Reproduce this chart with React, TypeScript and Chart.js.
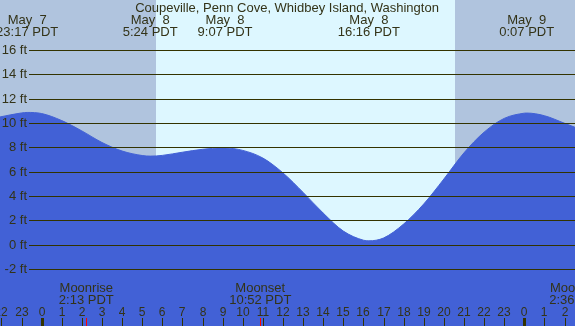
import React, { useEffect, useRef } from "react";
import { Chart, registerables } from "chart.js";

Chart.register(...registerables);

// Tide curve: hours since May 8 00:00 PDT, height in ft
const tideHours = [-2.07, -1, -0.72, 0, 1, 2, 3, 4, 5, 5.4, 6, 7, 8, 9, 9.12, 10, 11, 12, 13, 14, 15, 16, 16.27, 17, 18, 19, 20, 21, 22, 23, 24, 24.12, 25, 26, 26.52];
const tideFeet = [10.5, 10.83, 10.87, 10.78, 10.2, 9.35, 8.4, 7.7, 7.33, 7.28, 7.34, 7.6, 7.84, 7.95, 7.95, 7.75, 7.12, 5.9, 4.3, 2.6, 1.12, 0.37, 0.32, 0.55, 1.7, 3.35, 5.4, 7.55, 9.25, 10.38, 10.81, 10.82, 10.6, 9.98, 9.65];

// Tide extremes labels (top)
const extremeHours = [-0.72, 5.4, 9.12, 16.27, 24.12];
const extremeDates = ["May  7", "May  8", "May  8", "May  8", "May  9"];
const extremeTimes = ["23:17 PDT", "5:24 PDT", "9:07 PDT", "16:16 PDT", "0:07 PDT"];

// Sun: sunrise / sunset (hours)
const sunriseHour = 5.68;
const sunsetHour = 20.55;

// Moon events (bottom)
const moonHours = [2.22, 10.87, 26.6];
const moonNames = ["Moonrise", "Moonset", "Moonrise"];
const moonTimes = ["2:13 PDT", "10:52 PDT", "2:36 PDT"];

// Y grid lines (ft)
const gridFeet = [16, 14, 12, 10, 8, 6, 4, 2, 0, -2];

// Hour ticks
const tickHours = [-2, -1, 0, 1, 2, 3, 4, 5, 6, 7, 8, 9, 10, 11, 12, 13, 14, 15, 16, 17, 18, 19, 20, 21, 22, 23, 24, 25, 26];
const tickLabels = ["22", "23", "0", "1", "2", "3", "4", "5", "6", "7", "8", "9", "10", "11", "12", "13", "14", "15", "16", "17", "18", "19", "20", "21", "22", "23", "0", "1", "2"];

const title = "Coupeville, Penn Cove, Whidbey Island, Washington";

const NIGHT = "#b0c4de";
const DAY = "#ddf7ff";
const WATER = "#4261d6";
const LINE = "#333300";
const TEXT = "#333318";
const FONT = '"Liberation Sans", Arial, sans-serif';

const decorPlugin = {
  id: "tideDecor",
  beforeDatasetsDraw(chart: any) {
    const { ctx, chartArea, scales } = chart;
    const x = scales.x;
    const xr = Math.round(x.getPixelForValue(sunriseHour));
    const xs = Math.round(x.getPixelForValue(sunsetHour));
    ctx.save();
    ctx.fillStyle = NIGHT;
    ctx.fillRect(chartArea.left, chartArea.top, chartArea.right - chartArea.left, chartArea.bottom - chartArea.top);
    ctx.fillStyle = DAY;
    ctx.fillRect(xr, chartArea.top, xs - xr, chartArea.bottom - chartArea.top);
    ctx.restore();
  },
  afterDatasetsDraw(chart: any) {
    const { ctx, scales, width } = chart;
    const x = scales.x;
    const y = scales.y;
    ctx.save();
    // grid lines and labels
    ctx.strokeStyle = LINE;
    ctx.lineWidth = 1;
    ctx.fillStyle = TEXT;
    ctx.font = `13px ${FONT}`;
    ctx.textAlign = "right";
    ctx.textBaseline = "middle";
    gridFeet.forEach((f) => {
      const py = Math.round(y.getPixelForValue(f)) + 0.5;
      ctx.beginPath();
      ctx.moveTo(29, py);
      ctx.lineTo(width, py);
      ctx.stroke();
      ctx.fillText(`${f} ft`, 27, py);
    });
    // title
    ctx.textAlign = "center";
    ctx.textBaseline = "alphabetic";
    ctx.fillText(title, 287, 12);
    // extremes
    extremeHours.forEach((h, i) => {
      const px = x.getPixelForValue(h);
      ctx.fillText(extremeDates[i], px, 24);
      ctx.fillText(extremeTimes[i], px, 36);
    });
    // moon
    moonHours.forEach((h, i) => {
      const px = x.getPixelForValue(h);
      ctx.fillText(moonNames[i], px, 291.5);
      ctx.fillText(moonTimes[i], px, 303.5);
    });
    // hour ticks
    ctx.font = `12px ${FONT}`;
    tickHours.forEach((h, i) => {
      const px = Math.round(x.getPixelForValue(h));
      ctx.fillText(tickLabels[i], px, 316);
      ctx.fillStyle = LINE;
      if (tickLabels[i] === "0") {
        ctx.fillRect(px - 1, 318, 3, 8);
      } else {
        ctx.fillRect(px, 318, 1, 8);
      }
      ctx.fillStyle = TEXT;
    });
    ctx.fillStyle = "#ff0000";
    moonHours.forEach((h) => {
      const px = Math.round(x.getPixelForValue(h));
      ctx.fillRect(px, 318, 1, 8);
    });
    ctx.restore();
  },
};

export default function App() {
  const ref = useRef<HTMLCanvasElement>(null);
  useEffect(() => {
    document.body.style.margin = "0";
    const canvas = ref.current!;
    const chart = new Chart(canvas, {
      type: "line",
      data: {
        datasets: [
          {
            data: tideHours.map((h, i) => ({ x: h, y: tideFeet[i] })),
            borderColor: WATER,
            borderWidth: 1,
            backgroundColor: WATER,
            fill: "start",
            pointRadius: 0,
            cubicInterpolationMode: "monotone",
          },
        ],
      },
      options: {
        responsive: false,
        animation: false,
        layout: { padding: 0 },
        plugins: { legend: { display: false }, tooltip: { enabled: false }, title: { display: false } },
        scales: {
          x: { type: "linear", min: -2.07, max: 26.52, display: false },
          y: { type: "linear", min: -6.68, max: 20.11, display: false },
        },
      },
      plugins: [decorPlugin],
    });
    return () => chart.destroy();
  }, []);
  return <canvas ref={ref} width={575} height={326} style={{ display: "block" }} />;
}
